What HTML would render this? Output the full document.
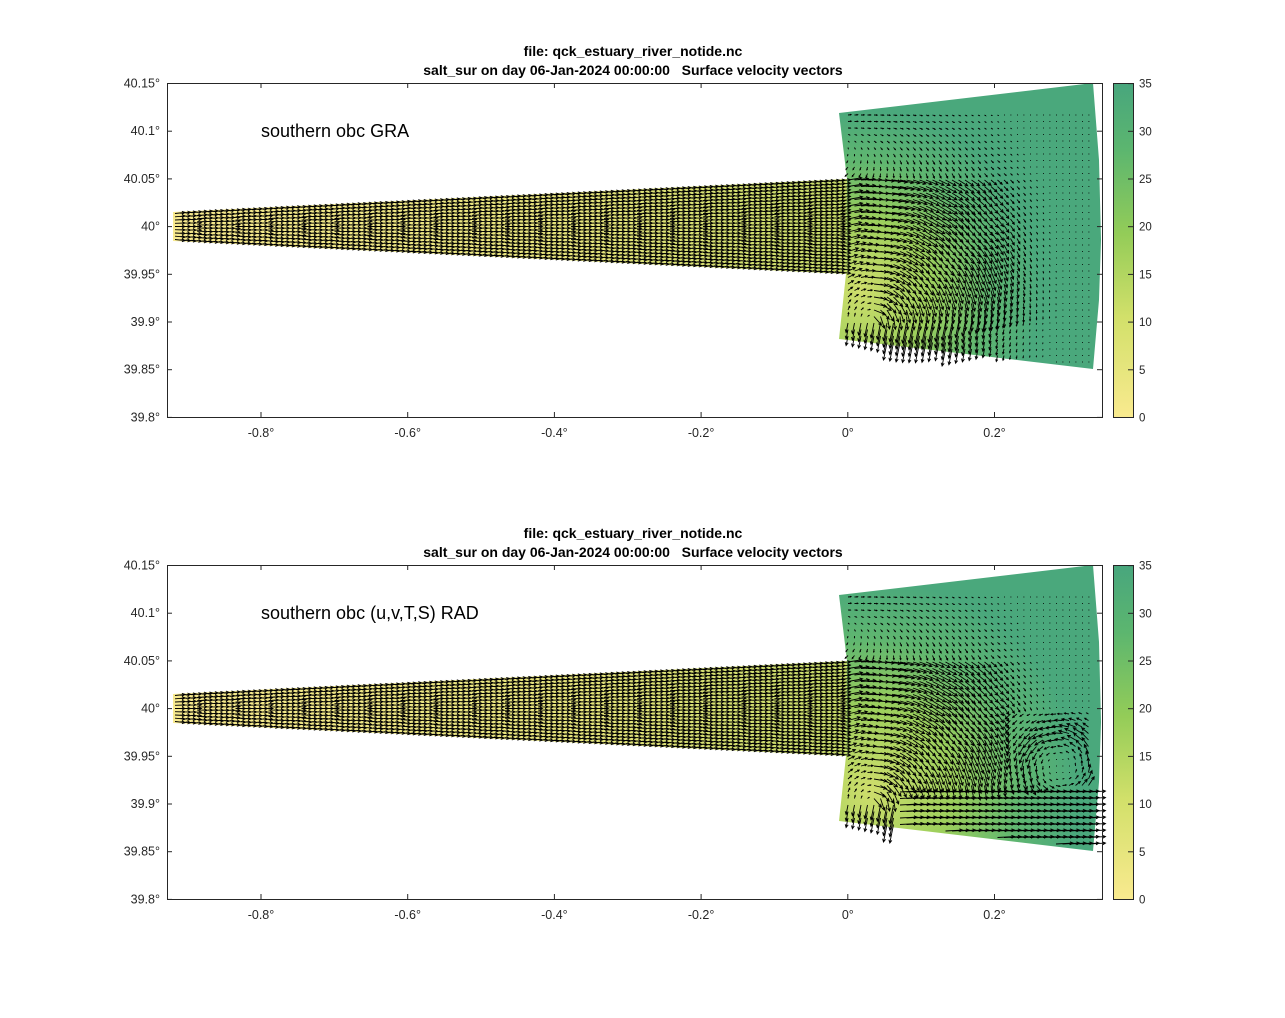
<!DOCTYPE html>
<html><head><meta charset="utf-8"><style>
html,body{margin:0;padding:0;background:#fff;}
svg{display:block;font-family:"Liberation Sans",Arial,sans-serif;}
</style></head><body>
<svg id="s" width="1285" height="1018" xmlns="http://www.w3.org/2000/svg">
<defs>
<linearGradient id="ch" x1="0" x2="1" y1="0" y2="0">
<stop offset="0" stop-color="#f7e98e"/><stop offset="0.6" stop-color="#e6e47c"/><stop offset="1" stop-color="#c6da68"/>
</linearGradient>
<radialGradient id="oc" gradientUnits="userSpaceOnUse" cx="860" cy="290" r="180">
<stop offset="0" stop-color="#cfde6c"/><stop offset="0.4" stop-color="#9ccf5c"/><stop offset="0.72" stop-color="#5fb670"/><stop offset="1" stop-color="#4aa87c"/>
</radialGradient>
<radialGradient id="oc2" gradientUnits="userSpaceOnUse" cx="870" cy="790" r="210">
<stop offset="0" stop-color="#cfde6c"/><stop offset="0.4" stop-color="#9ccf5c"/><stop offset="0.72" stop-color="#5fb670"/><stop offset="1" stop-color="#4aa87c"/>
</radialGradient>
<linearGradient id="cb" x1="0" x2="0" y1="1" y2="0">
<stop offset="0" stop-color="#f9ea8f"/><stop offset="0.3" stop-color="#d2e06a"/><stop offset="0.55" stop-color="#93cc58"/><stop offset="0.8" stop-color="#5cb66f"/><stop offset="1" stop-color="#48a67d"/>
</linearGradient>
</defs>
<g id="p1"></g><g id="p2"></g>
</svg>
<script>
function el(p,tag,a,t){var e=document.createElementNS('http://www.w3.org/2000/svg',tag);for(var k in a)e.setAttribute(k,a[k]);if(t)e.textContent=t;p.appendChild(e);return e;}
function panel(g,oy,label,second){
 var Y=function(y){return y+oy;};
 el(g,'text',{x:633,y:Y(56),'font-size':14,'font-weight':'bold','text-anchor':'middle'},'file: qck_estuary_river_notide.nc');
 el(g,'text',{x:633,y:Y(75),'font-size':14,'font-weight':'bold','text-anchor':'middle',style:'white-space:pre'},'salt_sur on day 06-Jan-2024 00:00:00   Surface velocity vectors');
 el(g,'polygon',{points:[173,Y(212),847,Y(179),847,Y(274),173,Y(241)].join(' '),fill:'url(#ch)'});
 el(g,'polygon',{points:[839,Y(113),1093,Y(83),1099,Y(160),1101,Y(240),1099,Y(300),1093,Y(369),839,Y(339),846,Y(274),847,Y(179)].join(' '),fill:second?'url(#oc2)':'url(#oc)'});
 var d='';
 function arr(x,y,u,v){var L=Math.sqrt(u*u+v*v);if(L<0.8){d+='M'+x.toFixed(1)+' '+y.toFixed(1)+'h0.8';return;}var ex=x+u,ey=y+v,ux=u/L,uy=v/L,h=Math.min(3,L*0.35);
  d+='M'+x.toFixed(1)+' '+y.toFixed(1)+'L'+ex.toFixed(1)+' '+ey.toFixed(1)+'M'+(ex-h*ux-h*0.5*uy).toFixed(1)+' '+(ey-h*uy+h*0.5*ux).toFixed(1)+'L'+ex.toFixed(1)+' '+ey.toFixed(1)+'L'+(ex-h*ux+h*0.5*uy).toFixed(1)+' '+(ey-h*uy-h*0.5*ux).toFixed(1);}
 for(var x=175;x<843;x+=5.5){var f=(x-173)/674,t=212-33*f,b=241+33*f;var n=Math.round((b-t)/3.3);
  for(var i=0;i<n;i++){var y=t+(b-t)*(i+0.5)/n;arr(x,Y(y),10,((y-(t+b)/2)/(b-t))*2.5);}}
 var Cx=870,Cy=320,R=120;
 for(var x=848;x<1095;x+=6.5){for(var y=115;y<372;y+=6.5){
  var top=113-30*(x-839)/254,bot=339+30*(x-839)/254; if(y<top+3||y>bot-2)continue;
  var u,v,m;
  var dx=x-Cx,dy=y-Cy,r=Math.sqrt(dx*dx+dy*dy)+1;
  if(y<Cy){u=-dy/r;v=dx/r;} else {u=-0.2;v=1;}
  var dist=Math.abs(r-R);
  m=Math.exp(-dist*dist/(2*60*60));
  if(y<Cy&&x>Cx&&r<R) m=Math.max(m,0.9);
  if(y>=Cy) m=Math.exp(-Math.pow((x-915)/65,2))*1.1+0.25;
  if(y<180){
    var w=Math.max(0,1-(180-y)/60)*Math.max(0,1-(x-848)/150);
    u=u*m*0.6-0.8*w; v=v*m*0.6+0.3*w; var L=Math.sqrt(u*u+v*v)+1e-6; m=L; u/=L; v/=L;}
  m*=Math.exp(-Math.pow(Math.max(0,x-975)/55,2));
  var sc=15*m;
  if(second){
    if(y>Cy-12&&x>895){u=1;v=-0.05;sc=17;}
    var ex=x-1060,ey=y-285;var rr=Math.sqrt(ex*ex+ey*ey)+1;
    if(x>1010&&y>230&&y<Cy-12){u=ey/rr;v=-ex/rr;sc=Math.max(sc,12*Math.max(0,1-Math.abs(rr-38)/28));}
  }
  arr(x,Y(y),u*sc,v*sc);}}
 el(g,'path',{d:d,stroke:'#000','stroke-width':0.9,fill:'none'});
 el(g,'rect',{x:167.5,y:Y(83.5),width:935,height:334,fill:'none',stroke:'#262626','stroke-width':1});
 var yl=['40.15°','40.1°','40.05°','40°','39.95°','39.9°','39.85°','39.8°'];
 for(var i=0;i<8;i++){var yy=Y(83.5+i*47.7);el(g,'line',{x1:167,x2:172,y1:yy,y2:yy,stroke:'#262626'});el(g,'line',{x1:1097,x2:1102,y1:yy,y2:yy,stroke:'#262626'});
  el(g,'text',{x:160,y:yy+4,'font-size':12.5,'text-anchor':'end',fill:'#262626'},yl[i]);}
 var xl=['-0.8°','-0.6°','-0.4°','-0.2°','0°','0.2°'];
 for(var i=0;i<6;i++){var xx=261+i*146.7;el(g,'line',{x1:xx,x2:xx,y1:Y(417),y2:Y(412),stroke:'#262626'});el(g,'line',{x1:xx,x2:xx,y1:Y(83),y2:Y(88),stroke:'#262626'});
  el(g,'text',{x:xx,y:Y(437),'font-size':12.5,'text-anchor':'middle',fill:'#262626'},xl[i]);}
 el(g,'text',{x:261,y:Y(137),'font-size':18},label);
 el(g,'rect',{x:1113.5,y:Y(83.5),width:20,height:334,fill:'url(#cb)',stroke:'#262626'});
 for(var i=0;i<8;i++){var yy=Y(417.5-i*47.7);el(g,'line',{x1:1128,x2:1133,y1:yy,y2:yy,stroke:'#262626'});
  el(g,'text',{x:1139,y:yy+4,'font-size':11.5,fill:'#262626'},String(i*5));}
}
panel(document.getElementById('p1'),0,'southern obc GRA',false);
panel(document.getElementById('p2'),482,'southern obc (u,v,T,S) RAD',true);
</script>
</body></html>
